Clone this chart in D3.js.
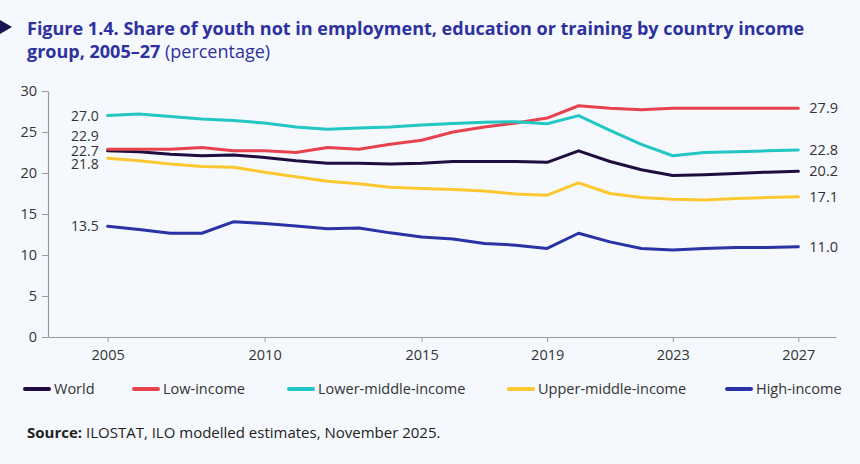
<!DOCTYPE html>
<html><head><meta charset="utf-8">
<script src="https://cdn.jsdelivr.net/npm/d3@7"></script>
<style>
html,body{margin:0;padding:0;background:#f5f8fc;}
svg{display:block;font-family:"Open Sans","Noto Sans",sans-serif;}
</style></head>
<body>
<script>
const years = d3.range(2005, 2028);
const xTickYears = [2005, 2010, 2015, 2019, 2023, 2027];
const yTicks = [0, 5, 10, 15, 20, 25, 30];
const seriesNames = ["World", "Low-income", "Lower-middle-income", "Upper-middle-income", "High-income"];
const seriesColors = ["#1f0d3f", "#e8424f", "#22c7c3", "#fdc82f", "#2a32a6"];
const world = [22.7,22.6,22.3,22.1,22.2,21.9,21.5,21.2,21.2,21.1,21.2,21.4,21.4,21.4,21.3,22.7,21.4,20.4,19.7,19.8,19.95,20.1,20.2];
const lowIncome = [22.9,22.9,22.9,23.1,22.7,22.7,22.5,23.1,22.9,23.5,24.0,25.0,25.6,26.1,26.7,28.2,27.9,27.7,27.9,27.9,27.9,27.9,27.9];
const lowerMiddle = [27.0,27.2,26.9,26.6,26.4,26.1,25.6,25.35,25.5,25.6,25.85,26.05,26.2,26.25,26.0,27.0,25.2,23.5,22.1,22.5,22.6,22.7,22.8];
const upperMiddle = [21.8,21.5,21.1,20.8,20.7,20.1,19.55,19.0,18.7,18.25,18.1,18.0,17.8,17.45,17.3,18.8,17.5,17.0,16.8,16.7,16.9,17.0,17.1];
const highIncome = [13.5,13.1,12.65,12.65,14.05,13.85,13.55,13.2,13.3,12.7,12.2,11.95,11.4,11.2,10.8,12.65,11.6,10.8,10.6,10.8,10.9,10.9,11.0];
const seriesValues = [world, lowIncome, lowerMiddle, upperMiddle, highIncome];
// label offsets (px) to keep the stacked start labels apart
const startLabelShift = [0, -13, 0, 6, 0];
const endLabelShift = [0, 0, 0, 0, 0];

const W = 860, H = 464;
const svg = d3.select("body").append("svg").attr("width", W).attr("height", H);

// title marker
svg.append("path").attr("d", "M0,20 L12,27 L0,34 Z").attr("fill", "#1a1450");
const title = svg.append("text").attr("fill", "#2d31a0").attr("font-size", 18);
title.append("tspan").attr("x", 27).attr("y", 34.5).attr("font-weight", 700)
  .text("Figure 1.4. Share of youth not in employment, education or training by country income");
const t2 = title.append("tspan").attr("x", 27).attr("y", 57.5);
t2.append("tspan").attr("font-weight", 700).text("group, 2005–27");
t2.append("tspan").attr("font-weight", 400).text(" (percentage)");

const x = d3.scaleLinear().domain([2003.1, 2028.2]).range([48, 836]);
const y = d3.scaleLinear().domain([0, 30]).range([337, 91]);

const axisColor = "#9a9a9a";
const gx = svg.append("g").attr("transform", "translate(0,337)")
  .call(d3.axisBottom(x).tickValues(xTickYears).tickFormat(d3.format("d")).tickSize(5).tickSizeOuter(0));
const gy = svg.append("g").attr("transform", "translate(48,0)")
  .call(d3.axisLeft(y).tickValues(yTicks).tickSize(6).tickSizeOuter(0).tickPadding(5));
[gx, gy].forEach(g => {
  g.select(".domain").attr("stroke", axisColor).attr("stroke-width", 1.2);
  g.selectAll(".tick line").attr("stroke", axisColor);
  g.selectAll(".tick text").attr("fill", "#333").attr("font-size", 14.5).attr("font-family", "Open Sans, Noto Sans, sans-serif");
});
gx.selectAll(".tick text").attr("dy", "1.0em");

const line = d3.line().x((d, i) => x(years[i])).y(d => y(d));
seriesValues.forEach((vals, s) => {
  svg.append("path").datum(vals).attr("d", line)
    .attr("fill", "none").attr("stroke", seriesColors[s]).attr("stroke-width", 3)
    .attr("stroke-linejoin", "round").attr("stroke-linecap", "round");
  svg.append("text").attr("x", x(years[0]) - 9).attr("y", y(vals[0]) + startLabelShift[s])
    .attr("dy", "0.35em").attr("text-anchor", "end").attr("font-size", 14).attr("fill", "#333")
    .text(vals[0].toFixed(1));
  svg.append("text").attr("x", x(years[years.length - 1]) + 11).attr("y", y(vals[vals.length - 1]) + endLabelShift[s])
    .attr("dy", "0.35em").attr("text-anchor", "start").attr("font-size", 14.5).attr("fill", "#333")
    .text(vals[vals.length - 1].toFixed(1));
});

// legend
const legendX = [25, 134, 289, 509, 727];
const lg = svg.append("g").attr("transform", "translate(0,389)");
seriesNames.forEach((n, i) => {
  lg.append("line").attr("x1", legendX[i]).attr("x2", legendX[i] + 24).attr("y1", 0).attr("y2", 0)
    .attr("stroke", seriesColors[i]).attr("stroke-width", 4).attr("stroke-linecap", "round");
  lg.append("text").attr("x", legendX[i] + 29).attr("y", 0).attr("dy", "0.35em")
    .attr("font-size", 14.5).attr("fill", "#333").text(n);
});

// source
const src = svg.append("text").attr("x", 27).attr("y", 438).attr("font-size", 15).attr("fill", "#222");
src.append("tspan").attr("font-weight", 700).text("Source:");
src.append("tspan").text(" ILOSTAT, ILO modelled estimates, November 2025.");
</script>
</body></html>
